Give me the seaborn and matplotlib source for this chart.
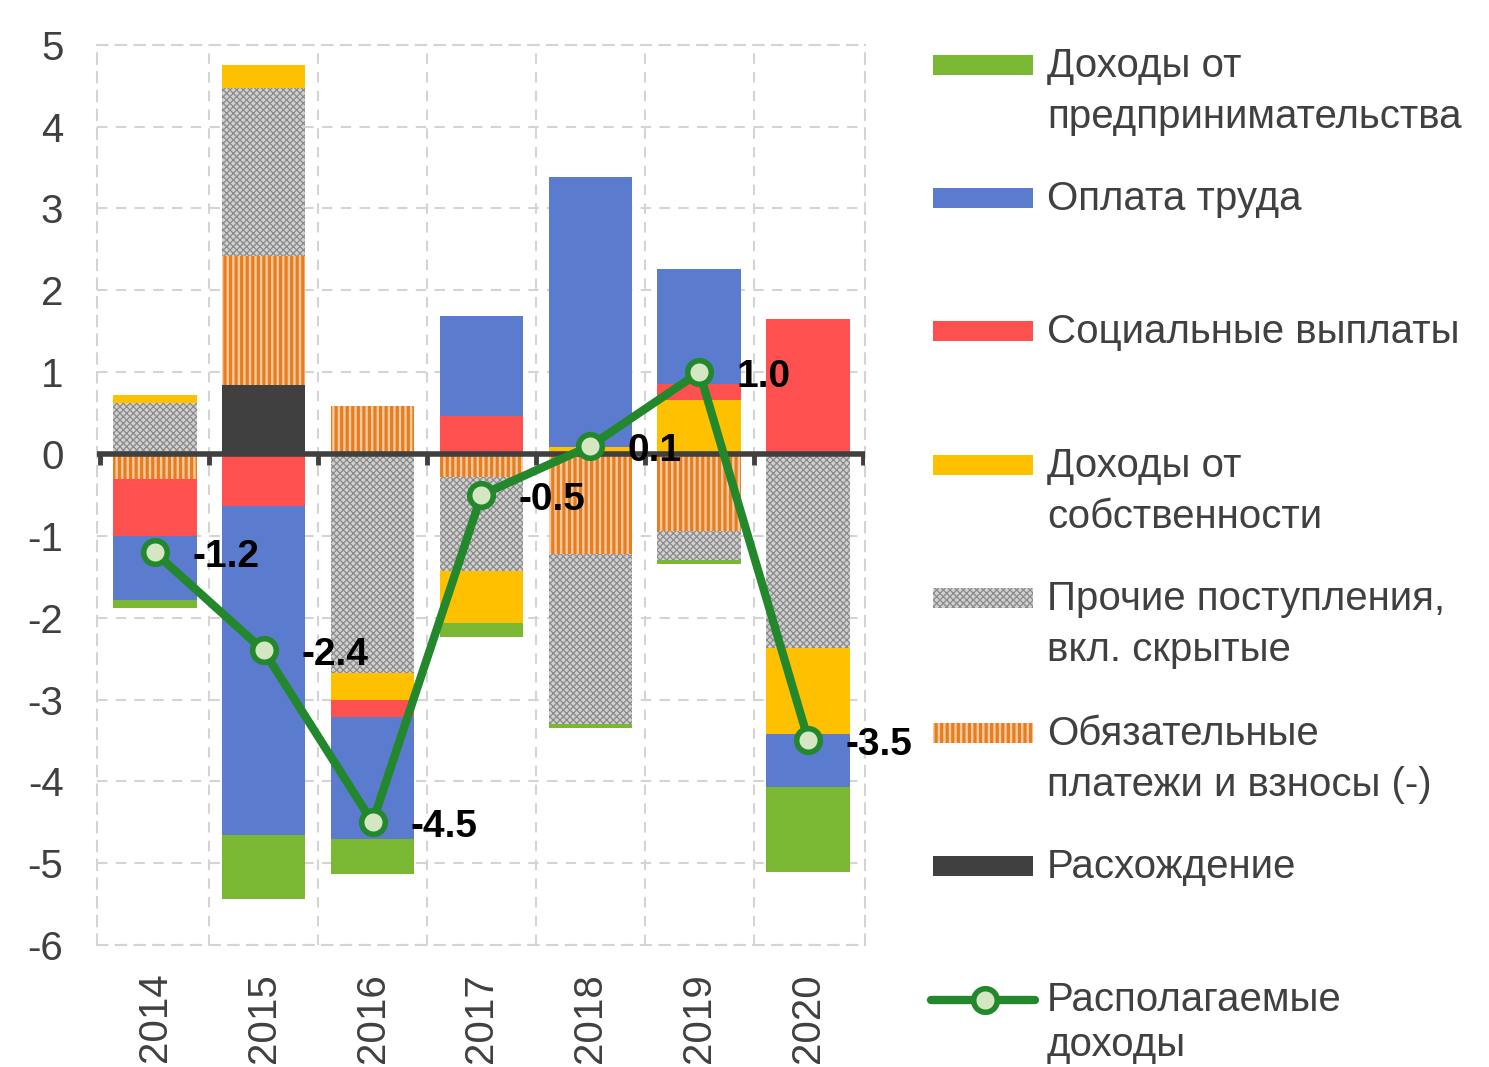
import numpy as np
import matplotlib
matplotlib.use("Agg")
import matplotlib.pyplot as plt
from matplotlib.patches import Rectangle
from matplotlib.lines import Line2D
import seaborn as sns

# contributions to growth of real disposable income, p.p.
years = ["2014", "2015", "2016", "2017", "2018", "2019", "2020"]
business = [-0.10, -0.78, -0.43, -0.17, -0.05, -0.06, -1.04]
wages = [-0.78, -4.03, -1.49, 1.22, 3.30, 1.41, -0.65]
social = [-0.70, -0.63, -0.20, 0.47, 0.00, 0.19, 1.65]
property_inc = [0.10, 0.28, -0.33, -0.64, 0.08, 0.66, -1.05]
other = [0.62, 2.05, -2.68, -1.15, -2.08, -0.35, -2.37]
mandatory = [-0.30, 1.58, 0.59, -0.28, -1.22, -0.94, 0.00]
discrepancy = [0.00, 0.84, 0.00, 0.00, 0.00, 0.00, 0.00]
disposable = [-1.2, -2.4, -4.5, -0.5, 0.1, 1.0, -3.5]

labels = ["Доходы от\nпредпринимательства", "Оплата труда", "Социальные выплаты",
          "Доходы от\nсобственности", "Прочие поступления,\nвкл. скрытые",
          "Обязательные\nплатежи и взносы (-)", "Расхождение", "Располагаемые\nдоходы"]

GREEN = "#7ab733"
BLUE = "#5b7bcf"
RED = "#ff5050"
YELLOW = "#ffc000"
DARK = "#404040"
LINE = "#22882b"

# style: face, hatch, hatch colour, hatch width
styles = {
    "business": (GREEN, None, None, 0),
    "wages": (BLUE, None, None, 0),
    "social": (RED, None, None, 0),
    "property": (YELLOW, None, None, 0),
    "other": ("#d0d0d0", "xxxxx", "#8a8a8a", 0.9),
    "mandatory": ("#f9c7a0", "|||", "#e67e1e", 2.3),
    "discrepancy": (DARK, None, None, 0),
}

sns.set_theme(style="white")
plt.rcParams["font.family"] = ["Liberation Sans", "DejaVu Sans"]

fig = plt.figure(figsize=(14.89, 10.67), dpi=100)
ax = fig.add_axes([0.065, 0.1143, 0.516, 0.8437])

x = np.arange(len(years))
# excel-like stacking: positives and negatives stacked separately
stack = [("discrepancy", discrepancy), ("mandatory", mandatory), ("other", other),
         ("property", property_inc), ("social", social), ("wages", wages),
         ("business", business)]
pos = np.zeros(len(x))
neg = np.zeros(len(x))
for key, vals in stack:
    v = np.array(vals)
    face, hatch, hcol, hlw = styles[key]
    bottom = np.where(v >= 0, pos, neg)
    if hatch:
        plt.rcParams["hatch.linewidth"] = hlw
    bars = ax.bar(x, v, bottom=bottom, width=0.77, color=face, hatch=hatch,
                  edgecolor=hcol if hatch else face, linewidth=0, zorder=2)
    if hatch:
        for b in bars:
            if hasattr(b, "set_hatch_linewidth"):
                b.set_hatch_linewidth(hlw)
    pos += np.clip(v, 0, None)
    neg += np.clip(v, None, 0)

# zero axis with small ticks at category borders
ax.axhline(0, color=DARK, lw=4, zorder=4)
ax.vlines(np.arange(-0.5, len(x)), -0.13, 0, color=DARK, lw=3.5, zorder=4)

sns.lineplot(x=x, y=disposable, ax=ax, color=LINE, lw=6, marker="o", markersize=17,
             markerfacecolor="#d5e6c3", markeredgecolor=LINE, markeredgewidth=4,
             zorder=6, legend=False)
for xi, yi in zip(x, disposable):
    ax.annotate(f"{yi:.1f}", (xi, yi), xytext=(27, -3.5), textcoords="offset points",
                ha="left", va="center", fontsize=28, fontweight="bold",
                color="black", zorder=7)

ax.set_xlim(-0.53, 6.52)
ax.set_ylim(-6, 5)
ax.set_yticks(range(-6, 6))
ax.set_yticklabels([str(v) for v in range(-6, 6)])
ax.set_xticks(x)
ax.set_xticklabels(years, rotation=90)
ax.set_xticks(np.arange(0.5, len(x) - 1), minor=True)
ax.tick_params(axis="both", which="both", length=0, labelsize=29, labelcolor="#404040")
ax.tick_params(axis="y", pad=24)
ax.tick_params(axis="x", pad=20)
ax.grid(True, which="major", axis="y", color="#d4d4d4", ls=(0, (5, 4)), lw=1.5, zorder=0)
ax.grid(True, which="minor", axis="x", color="#d4d4d4", ls=(0, (5, 4)), lw=1.5, zorder=0)
for sp in ax.spines.values():
    sp.set_visible(True)
    sp.set_color("#d4d4d4")
    sp.set_linestyle((0, (5, 4)))
    sp.set_linewidth(1.5)

# legend on the right, handles aligned with first line of each label
W, H = 1489, 1067
rows = [65, 198, 331, 465, 598, 733, 866, 1000]
keys = ["business", "wages", "social", "property", "other", "mandatory", "discrepancy"]
LEG_FS = 29
LEG_LS = 1.42
for key, y, lab in zip(keys, rows, labels):
    face, hatch, hcol, hlw = styles[key]
    if hatch:
        plt.rcParams["hatch.linewidth"] = hlw
    r = Rectangle((933 / W, 1 - (y + 10) / H), 100 / W, 20 / H, transform=fig.transFigure,
                  facecolor=face, hatch=hatch, edgecolor=hcol if hatch else face, lw=0)
    if hatch and hasattr(r, "set_hatch_linewidth"):
        r.set_hatch_linewidth(hlw)
    fig.patches.append(r)
    fig.text(1047 / W, 1 - (y - 18) / H, lab, ha="left", va="top", fontsize=LEG_FS,
             color="#404040", linespacing=LEG_LS)
yl = 1 - rows[-1] / H
fig.lines.append(Line2D([931 / W, 1035 / W], [yl, yl], transform=fig.transFigure,
                        color=LINE, lw=6, solid_capstyle="round"))
fig.lines.append(Line2D([985 / W], [yl], transform=fig.transFigure, marker="o",
                        markersize=17, markerfacecolor="#d5e6c3", markeredgecolor=LINE,
                        markeredgewidth=4))
# last label kept a little tighter so it stays inside the canvas
fig.text(1047 / W, 1 - (rows[-1] - 19) / H, labels[-1], ha="left", va="top", fontsize=LEG_FS,
         color="#404040", linespacing=1.25)

fig.savefig("out.png", dpi=100)
